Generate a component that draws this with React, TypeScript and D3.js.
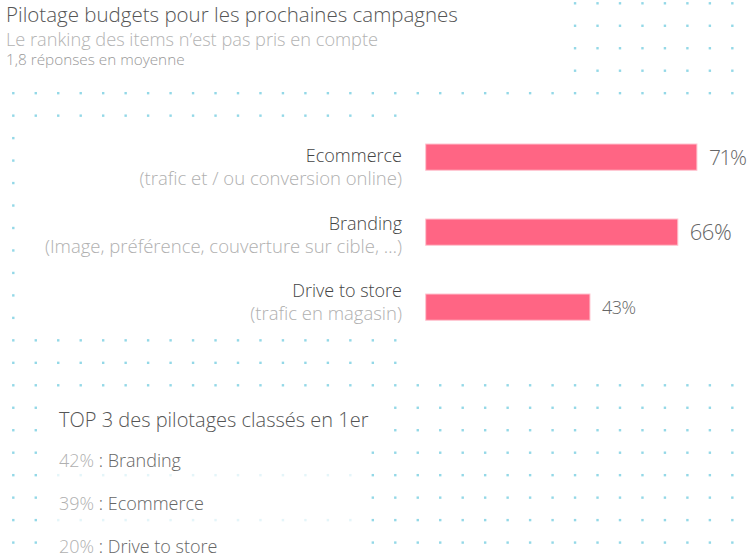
import React from "react";
import * as d3 from "d3";

const categories = ["Ecommerce", "Branding", "Drive to store"];
const subLabels = [
  "(trafic et / ou conversion online)",
  "(Image, préférence, couverture sur cible, …)",
  "(trafic en magasin)",
];
const values = [71, 66, 43];
const valueFontSizes = [21, 22, 18];

const top3Values = [42, 39, 20];
const top3Labels = ["Branding", "Ecommerce", "Drive to store"];

const FONT = "'Open Sans', sans-serif";

const W = 750;
const H = 560;

// dot grid
const GX0 = 13.3;
const GY0 = 3.3;
const STEP = 22.47;
const NI = 33;
const NJ = 25;

function dotVisible(i: number, j: number): number {
  if (j <= 3) return i >= 25 ? 1 : 0;
  if (j === 4) return 1;
  if (j === 5) return i <= 17 ? 1 : 0;
  if (j >= 6 && j <= 14) return i === 0 ? 1 : 0;
  if (j === 15 || j === 16) return i <= 17 ? 1 : 0;
  if (j === 17) return 1;
  if (j === 18 || j === 19) return i <= 1 || i >= 17 ? 1 : 0;
  if (j >= 20) {
    if (i <= 1 || i >= 16) return 1;
    if (j === 21 || j === 23) return 0.25;
    return 0;
  }
  return 0;
}

export default function App() {
  const x = d3.scaleLinear().domain([0, 100]).range([425.7, 807.7]);
  const y = d3
    .scaleBand<string>()
    .domain(categories)
    .range([144, 320.25])
    .paddingInner(0.65)
    .paddingOuter(0);
  const labelY = d3.scalePoint<string>().domain(categories).range([162, 297]);
  const topY = d3
    .scalePoint<string>()
    .domain(top3Labels)
    .range([466.7, 553]);

  const dots: { cx: number; cy: number; o: number }[] = [];
  d3.range(NJ).forEach((j) => {
    d3.range(NI).forEach((i) => {
      const o = dotVisible(i, j);
      if (o > 0) dots.push({ cx: GX0 + i * STEP, cy: GY0 + j * STEP, o });
    });
  });

  return (
    <svg
      width={W}
      height={H}
      style={{ position: "absolute", left: 0, top: 0, background: "#fff" }}
      fontFamily={FONT}
    >
      <g>
        {dots.map((d, k) => (
          <rect
            key={k}
            x={d.cx - 1.2}
            y={d.cy - 1.2}
            width={2.4}
            height={2.4}
            fill="#93d8e7"
            opacity={d.o}
          />
        ))}
      </g>

      <text x={6} y={22} fontSize={20.5} fill="#555" fontWeight={300}>
        Pilotage budgets pour les prochaines campagnes
      </text>
      <text x={6} y={46} fontSize={18.2} fill="#b3b3b3" fontWeight={300}>
        Le ranking des items n’est pas pris en compte
      </text>
      <text x={6} y={65} fontSize={15.3} fill="#999" fontWeight={300}>
        1,8 réponses en moyenne
      </text>

      {categories.map((c, k) => (
        <g key={c}>
          <text
            x={402}
            y={labelY(c)!}
            textAnchor="end"
            fontSize={18}
            fill="#444"
            fontWeight={300}
          >
            {c}
          </text>
          <text
            x={402}
            y={labelY(c)! + 23}
            textAnchor="end"
            fontSize={18.5}
            fill="#b0b0b0"
            fontWeight={300}
          >
            {subLabels[k]}
          </text>
          <rect
            x={x(0)}
            y={y(c)!}
            width={x(values[k]) - x(0)}
            height={y.bandwidth()}
            fill="#ff6584"
            stroke="#ffc4cf"
            strokeWidth={1}
          />
          <text
            x={x(values[k]) + 12}
            y={y(c)! + y.bandwidth() / 2 + valueFontSizes[k] * 0.37}
            fontSize={valueFontSizes[k]}
            fill="#666"
            fontWeight={300}
            letterSpacing={k === 0 ? -1.5 : -0.5}
          >
            {values[k]}%
          </text>
        </g>
      ))}

      <text x={59} y={426.5} fontSize={20} fill="#555" fontWeight={300}>
        TOP 3 des pilotages classés en 1er
      </text>
      {top3Labels.map((l, k) => (
        <text key={l} x={59} y={topY(l)!} fontSize={18} fontWeight={300}>
          <tspan fill="#b0b0b0">{top3Values[k]}%</tspan>
          <tspan fill="#666"> : {l}</tspan>
        </text>
      ))}
    </svg>
  );
}
